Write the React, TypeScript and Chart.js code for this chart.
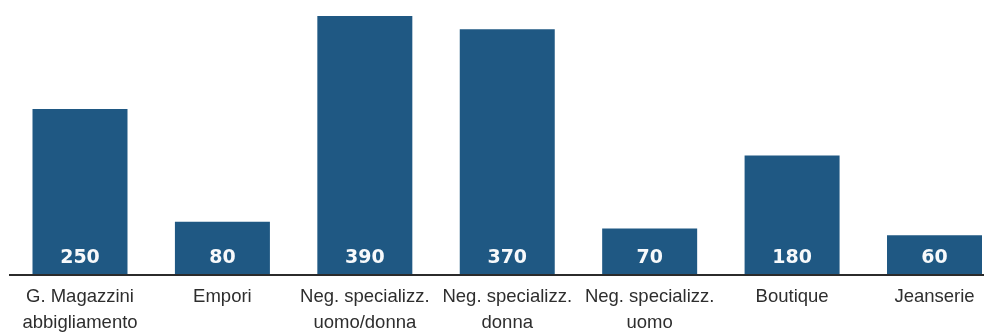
import React, { useEffect, useRef } from "react";
import { Chart, registerables } from "chart.js";

Chart.register(...registerables);

// Store types and the number of outlets of each
const categories: string[][] = [
  ["G. Magazzini", "abbigliamento"],
  ["Empori"],
  ["Neg. specializz.", "uomo/donna"],
  ["Neg. specializz.", "donna"],
  ["Neg. specializz.", "uomo"],
  ["Boutique"],
  ["Jeanserie"],
];
const values: number[] = [250, 80, 390, 370, 70, 180, 60];

const BAR_COLOR = "#1f5883";
const TEXT_COLOR = "#2e2e2e";

// White value labels sitting at the foot of each bar
const valueLabels = {
  id: "valueLabels",
  afterDatasetsDraw(chart: any) {
    const ctx = chart.ctx;
    const meta = chart.getDatasetMeta(0);
    ctx.save();
    ctx.fillStyle = "#f7f9fb";
    ctx.font = "bold 19px 'DejaVu Sans', sans-serif";
    ctx.textAlign = "center";
    ctx.textBaseline = "alphabetic";
    meta.data.forEach((bar: any, i: number) => {
      const { x, base } = bar.getProps(["x", "base"], true);
      ctx.fillText(String(values[i]), x, base - 12);
    });
    ctx.restore();
  },
};

export default function App() {
  const canvasRef = useRef<HTMLCanvasElement | null>(null);

  useEffect(() => {
    if (!canvasRef.current) return;
    const chart = new Chart(canvasRef.current, {
      type: "bar",
      data: {
        datasets: [
          {
            data: values.map((v, i) => ({ x: i, y: v })),
            backgroundColor: BAR_COLOR,
            borderWidth: 0,
            categoryPercentage: 1,
            barPercentage: 0.667,
          },
        ],
      },
      options: {
        animation: false,
        responsive: false,
        maintainAspectRatio: false,
        layout: { padding: { left: 10, right: 11, top: 0, bottom: 0 } },
        plugins: {
          legend: { display: false },
          tooltip: { enabled: false },
          title: { display: false },
        },
        scales: {
          x: {
            type: "linear",
            offset: false,
            min: -0.4915,
            max: 6.3405,
            grid: { display: false, drawTicks: false, tickLength: 0 },
            border: { display: true, color: "#2b2b2b", width: 2, z: 1 },
            afterBuildTicks: (scale: any) => {
              scale.ticks = categories.map((_, i) => ({ value: i }));
            },
            afterFit: (scale: any) => {
              scale.height = 58;
            },
            ticks: {
              autoSkip: false,
              maxRotation: 0,
              minRotation: 0,
              padding: 9,
              color: TEXT_COLOR,
              font: { family: "'Liberation Sans', Arial, sans-serif", size: 18.5, lineHeight: "26px" },
              callback: (value: any) => categories[value as number] ?? "",
            },
          },
          y: {
            display: false,
            min: 0,
            max: 414,
          },
        },
      },
      plugins: [valueLabels],
    });
    return () => chart.destroy();
  }, []);

  return (
    <div style={{ position: "fixed", left: 0, top: 0, width: 994, height: 333, background: "#ffffff" }}>
      <canvas ref={canvasRef} width={994} height={333} style={{ display: "block", width: 994, height: 333 }} />
    </div>
  );
}
